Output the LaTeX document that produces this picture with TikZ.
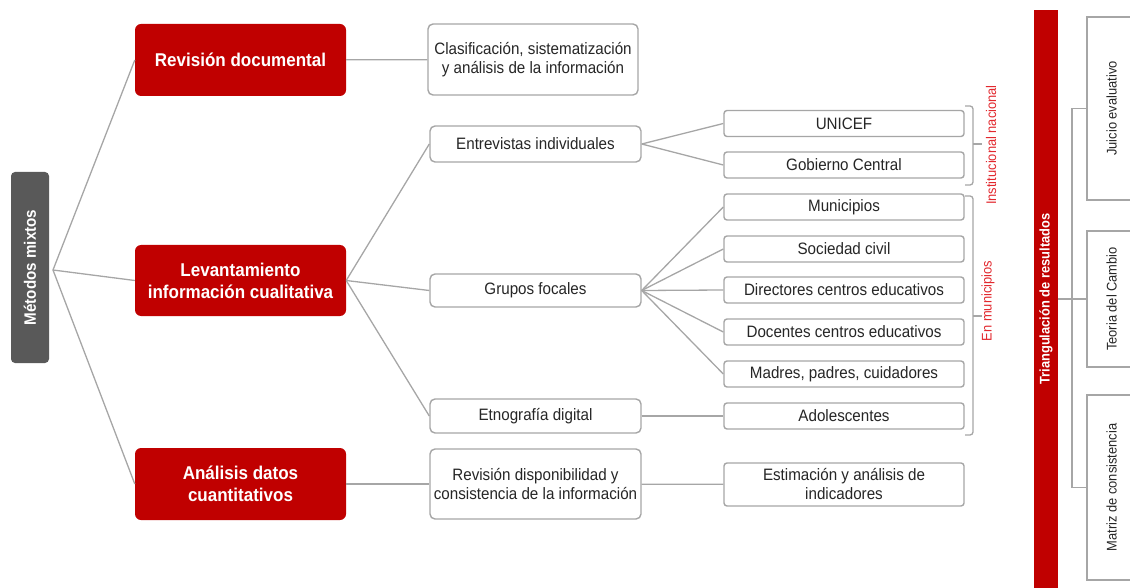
\documentclass[tikz,border=0pt]{standalone}
\usepackage{fontspec}
\setmainfont{Liberation Sans}[FakeStretch=0.92]
\definecolor{mainred}{RGB}{192, 0, 0}
\definecolor{boxgray}{RGB}{89, 89, 89}
\definecolor{linegray}{RGB}{166, 166, 166}
\definecolor{labelred}{RGB}{226, 40, 46}

\begin{document}
\begin{tikzpicture}[
        x=1pt, y=-1pt,
        redbox/.style={fill=mainred, rounded corners=6pt, minimum width=211pt, minimum height=72pt, inner sep=0pt, align=center, text=white, font=\fontsize{18.5}{22}\selectfont\bfseries},
        whitebox/.style={draw=linegray, line width=1.4pt, fill=white, rounded corners=5pt, minimum width=211pt, inner sep=0pt, align=center, text=black!85, font=\fontsize{16.5}{19}\selectfont},
        smallbox/.style={whitebox, rounded corners=3pt, minimum width=240pt, minimum height=26pt},
        sidebox/.style={draw=linegray, line width=1.4pt, minimum height=49pt, inner sep=0pt, rotate=90, text=black!85, font=\fontsize{14}{16}\selectfont},
        grouplabel/.style={rotate=90, text=labelred, font=\fontsize{14}{16}\selectfont},
        link/.style={draw=linegray, line width=1.3pt},
        bracket/.style={draw=linegray, line width=1.3pt, rounded corners=3pt}
    ]
        \useasboundingbox (0,0) rectangle (1130,588);
        \node[fill=boxgray, rounded corners=4pt, rotate=90, minimum width=191pt, minimum height=38pt, inner sep=0pt, text=white, font=\fontsize{16.5}{19}\selectfont\bfseries] (metodos) at (30,267.5) {Métodos mixtos};
        \coordinate (split) at (53,270);

        \node[redbox] (revdoc) at (240.5,60) {Revisión documental};
        \node[redbox, minimum height=71pt] (levant) at (240.5,280.5) {Levantamiento\\información cualitativa};
        \node[redbox] (cuanti) at (240.5,484) {Análisis datos\\cuantitativos};

        \node[whitebox, minimum width=210pt, minimum height=71pt] (clasif) at (533,59.5) {Clasificación, sistematización\\y análisis de la información};
        \node[whitebox, minimum height=36pt] (entrev) at (535.5,144) {Entrevistas individuales};
        \node[whitebox, minimum height=33pt] (grupos) at (535.5,290.5) {Grupos focales};
        \node[whitebox, minimum height=34pt] (etno) at (535.5,416) {Etnografía digital};
        \node[whitebox, minimum height=70pt] (revdisp) at (535.5,484) {Revisión disponibilidad y\\consistencia de la información};

        \node[smallbox] (unicef) at (844,123.5) {UNICEF};
        \node[smallbox] (gobierno) at (844,165) {Gobierno Central};
        \node[smallbox] (munic) at (844,207) {Municipios};
        \node[smallbox] (sociedad) at (844,249) {Sociedad civil};
        \node[smallbox] (directores) at (844,290) {Directores centros educativos};
        \node[smallbox] (docentes) at (844,332) {Docentes centros educativos};
        \node[smallbox] (madres) at (844,374) {Madres, padres, cuidadores};
        \node[smallbox] (adolesc) at (844,416) {Adolescentes};
        \node[smallbox, minimum height=43pt] (estim) at (844,484.5) {Estimación y análisis de\\indicadores};

        % grupos de actores
        \draw[bracket] (965,106) -- (973,106) -- (973,185) -- (965,185);
        \draw[link] (973,144) -- (982,144);
        \node[grouplabel] (instit) at (991,145) {Institucional nacional};
        \draw[bracket] (965,196) -- (973,196) -- (973,435) -- (965,435);
        \draw[link] (973,316) -- (982,316);
        \node[grouplabel] (enmunic) at (988,301) {En municipios};

        \node[fill=mainred, rotate=90, minimum width=578pt, minimum height=24pt, inner sep=0pt, text=white, font=\fontsize{14}{16}\selectfont\bfseries] (triang) at (1046,299) {Triangulación de resultados};
        \node[sidebox, minimum width=183pt] (juicio) at (1111.5,108.5) {Juicio evaluativo};
        \node[sidebox, minimum width=136pt] (teoria) at (1111.5,299) {Teoria del Cambio};
        \node[sidebox, minimum width=185pt] (matriz) at (1111.5,487.5) {Matriz de consistencia};
        \coordinate (trifork) at (1072,299);

        \draw[link] (split) -- (revdoc.west);
        \draw[link] (split) -- (levant.west);
        \draw[link] (split) -- (cuanti.west);
        \draw[link] (revdoc) -- (clasif);
        \draw[link] (levant.east) -- (entrev.west);
        \draw[link] (levant.east) -- (grupos.west);
        \draw[link] (levant.east) -- (etno.west);
        \draw[link] (cuanti) -- (revdisp);
        \draw[link] (revdisp) -- (estim);
        \foreach \n in {unicef, gobierno}
            \draw[link] (entrev.east) -- (\n.west);
        \foreach \n in {munic, sociedad, directores, docentes, madres}
            \draw[link] (grupos.east) -- (\n.west);
        \draw[link] (etno) -- (adolesc);
        \draw[link] (triang.south) -- (teoria.north);
        \draw[link] (juicio.north) -| (trifork) |- (matriz.north);
    \end{tikzpicture}
\end{document}
